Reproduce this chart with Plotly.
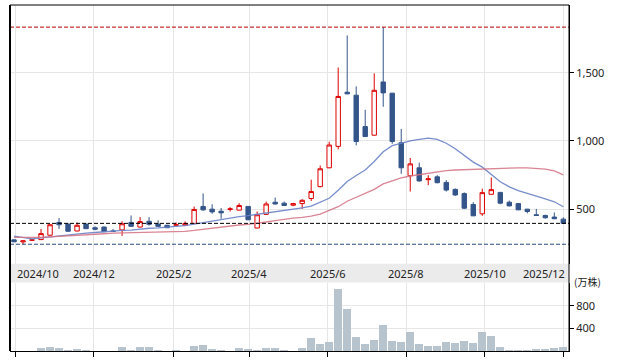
import plotly.graph_objects as go
import pandas as pd

# Weekly candles (week starting Monday)
dates = pd.date_range("2024-09-30", periods=62, freq="7D")

open_ = [275, 260, 272, 277, 309, 403, 391, 340, 391, 364,
         369, 340, 348, 403, 369, 411, 391, 382, 382, 382,
         396, 520, 500, 485, 498, 493, 520, 362, 462, 551,
         544, 529, 541, 578, 665, 803, 960, 1357, 1335, 1105,
         1042, 1432, 1350, 987, 745, 803, 716, 737, 696, 645,
         614, 534, 466, 609, 623, 551, 541, 500, 459, 454,
         442, 427]
high = [277, 270, 278, 355, 388, 435, 395, 403, 393, 374,
        372, 355, 411, 454, 442, 442, 418, 385, 403, 411,
        520, 616, 536, 509, 515, 544, 522, 483, 556, 585,
        556, 546, 573, 716, 820, 994, 1538, 1773, 1400, 1228,
        1495, 1834, 1352, 1088, 875, 841, 749, 749, 713, 652,
        623, 551, 650, 732, 625, 563, 543, 502, 502, 459,
        476, 440]
low = [258, 243, 266, 275, 307, 355, 335, 338, 355, 345,
       333, 333, 304, 372, 367, 379, 372, 362, 374, 380,
       394, 488, 466, 430, 483, 491, 420, 360, 460, 534,
       524, 522, 502, 560, 660, 800, 938, 1343, 967, 1030,
       1040, 1250, 979, 759, 629, 701, 676, 689, 629, 597,
       500, 450, 451, 607, 536, 520, 493, 469, 453, 430,
       427, 393]
close = [261, 268, 275, 321, 386, 386, 338, 382, 357, 353,
         335, 337, 393, 374, 409, 389, 374, 364, 386, 396,
         498, 495, 480, 473, 502, 527, 422, 459, 538, 538,
         527, 541, 565, 629, 796, 970, 1326, 1345, 996, 1032,
         1371, 1352, 996, 803, 832, 707, 722, 694, 640, 604,
         507, 451, 621, 643, 544, 524, 495, 483, 454, 437,
         430, 396]

# Moving averages (13-week blue, 26-week red)
ma13 = [302, 293, 282, 289, 297, 304, 309, 318, 324, 329,
        335, 340, 344, 347, 355, 360, 363, 367, 373, 380,
        391, 402, 413, 424, 437, 446, 453, 462, 471, 480,
        489, 500, 509, 522, 551, 580, 638, 703, 747, 787,
        849, 921, 965, 983, 1001, 1012, 1021, 1012, 983, 943,
        892, 845, 808, 754, 701, 663, 636, 616, 598, 576,
        554, 518]
ma26 = [294, 293, 293, 294, 297, 300, 304, 308, 311, 316,
        320, 324, 326, 328, 329, 331, 331, 331, 333, 338,
        344, 353, 362, 369, 377, 384, 389, 396, 406, 416,
        427, 435, 440, 449, 464, 493, 518, 558, 587, 620,
        645, 685, 707, 729, 743, 754, 765, 776, 783, 787,
        790, 790, 794, 798, 801, 803, 803, 803, 801, 794,
        780, 751]

# Volume (万株)
volume = [4, 4, 4, 52, 70, 52, 23, 40, 23, 4,
          4, 4, 87, 12, 87, 70, 23, 4, 17, 4,
          104, 122, 40, 17, 4, 58, 40, 17, 58, 58,
          17, 4, 65, 235, 124, 176, 1118, 747, 253, 124,
          200, 465, 182, 165, 341, 124, 94, 94, 165, 147,
          182, 147, 341, 271, 76, 18, 18, 18, 41, 41,
          59, 76]

month_ticks = ["2024-10-01", "2024-12-01", "2025-02-01", "2025-04-01",
               "2025-06-01", "2025-08-01", "2025-10-01", "2025-12-01"]
month_labels = ["2024/10", "2024/12", "2025/2", "2025/4",
                "2025/6", "2025/8", "2025/10", "2025/12"]

price_ticks = [500, 1000, 1500]
price_ticktext = ["500", "1,000", "1,500"]
vol_ticks = [400, 800]

FONT = "Noto Sans"
GRID = "#e6e6e6"
UP = "#dd0000"
DOWN = "#34558a"

fig = go.Figure()
fig.add_trace(go.Scatter(x=dates, y=ma13, mode="lines",
                         line=dict(color="rgba(105,130,198,0.9)", width=1.3),
                         xaxis="x", yaxis="y", hoverinfo="skip"))
fig.add_trace(go.Scatter(x=dates, y=ma26, mode="lines",
                         line=dict(color="rgba(212,112,128,0.85)", width=1.3),
                         xaxis="x", yaxis="y", hoverinfo="skip"))
fig.add_trace(go.Candlestick(
    x=dates, open=open_, high=high, low=low, close=close,
    increasing=dict(line=dict(color=UP, width=1), fillcolor="#ffffff"),
    decreasing=dict(line=dict(color=DOWN, width=1), fillcolor=DOWN),
    whiskerwidth=0, xaxis="x", yaxis="y"))
fig.add_trace(go.Bar(x=dates, y=volume, width=7 * 86400000 * 0.88,
                     marker=dict(color="#b8c4cd", line=dict(width=0)),
                     xaxis="x2", yaxis="y2"))

max_high = max(high)
min_low = min(low)
last_close = close[-1]

pdom = [(354 - 266) / 349, 1]
vdom = [0, (354 - 285) / 349]

shapes = [
    # date band
    dict(type="rect", xref="paper", yref="paper", x0=0, x1=1,
         y0=vdom[1], y1=pdom[0], fillcolor="#ebebeb", line=dict(width=0), layer="below"),
    # reference dashed lines
    dict(type="line", xref="paper", yref="y", x0=0, x1=1, y0=max_high, y1=max_high,
         line=dict(color="#b40000", width=1, dash="4px,2px")),
    dict(type="line", xref="paper", yref="y", x0=0, x1=1, y0=last_close, y1=last_close,
         line=dict(color="#000000", width=1, dash="4px,2px")),
    dict(type="line", xref="paper", yref="y", x0=0, x1=1, y0=min_low, y1=min_low,
         line=dict(color="#2b4a7e", width=1, dash="4px,2px")),
    # frame
    dict(type="line", xref="paper", yref="paper", x0=0, x1=0, y0=0, y1=1,
         line=dict(color="#000", width=2)),
    dict(type="line", xref="paper", yref="paper", x0=1, x1=1, y0=0, y1=1,
         line=dict(color="#000", width=1)),
    dict(type="line", xref="paper", yref="paper", x0=0, x1=1, y0=1, y1=1,
         line=dict(color="#000", width=1)),
]

annotations = []
label_y = (354 - 275.5) / 349
for i, (t, lab) in enumerate(zip(month_ticks, month_labels)):
    if i == 0:
        anchor, shift = "left", 0
    elif i == len(month_ticks) - 1:
        anchor, shift = "right", 4
    else:
        anchor, shift = "center", 0
    annotations.append(dict(x=t, xref="x", y=label_y, yref="paper", text=lab,
                            showarrow=False, xanchor=anchor, yanchor="middle",
                            xshift=shift, font=dict(family=FONT, size=11, color="#222")))
annotations.append(dict(x=1, xref="paper", y=vdom[1], yref="paper", text="(万株)",
                        showarrow=False, xanchor="left", yanchor="middle", xshift=3, yshift=1,
                        font=dict(family="Noto Sans CJK JP", size=10, color="#222")))

xrange = ["2024-09-26 21:00", "2025-12-05 10:00"]

fig.update_layout(
    width=617, height=361,
    margin=dict(l=10, r=48, t=5, b=7),
    paper_bgcolor="white", plot_bgcolor="white",
    showlegend=False,
    bargap=0,
    shapes=shapes,
    annotations=annotations,
    xaxis=dict(domain=[0, 1], anchor="y", type="date", range=xrange,
               tickvals=month_ticks, showticklabels=False, ticks="",
               showgrid=True, gridcolor=GRID, gridwidth=1, zeroline=False,
               showline=False, rangeslider=dict(visible=False)),
    xaxis2=dict(domain=[0, 1], anchor="y2", type="date", matches="x", range=xrange,
                tickvals=month_ticks, showticklabels=False, ticks="outside",
                ticklen=5, tickcolor="#000", tickwidth=1,
                showgrid=True, gridcolor=GRID, gridwidth=1, zeroline=False,
                showline=True, linecolor="#000", linewidth=1),
    yaxis=dict(domain=pdom, anchor="x", side="right", range=[100, 1996],
               tickvals=price_ticks, ticktext=price_ticktext,
               ticks="outside", ticklen=4, tickcolor="#000", tickwidth=1,
               showgrid=True, gridcolor=GRID, gridwidth=1, zeroline=False,
               showline=True, linecolor="#000", linewidth=1,
               tickfont=dict(family=FONT, size=11, color="#222")),
    yaxis2=dict(domain=vdom, anchor="x2", side="right", range=[0, 1216],
                tickvals=vol_ticks, ticktext=["400", "800"],
                ticks="outside", ticklen=4, tickcolor="#000", tickwidth=1,
                showgrid=True, gridcolor=GRID, gridwidth=1, zeroline=False,
                showline=True, linecolor="#000", linewidth=1,
                tickfont=dict(family=FONT, size=11, color="#222")),
)

fig.write_html("out.html", config={"displayModeBar": False},
               post_script="document.body.style.margin='0px';document.body.style.overflow='hidden';")
